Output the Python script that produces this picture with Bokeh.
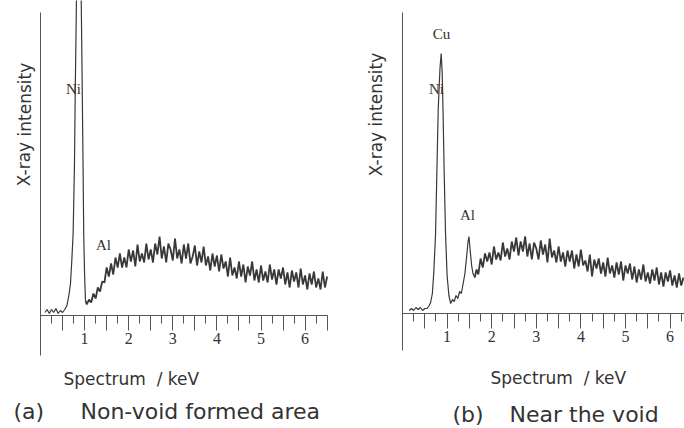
from bokeh.plotting import figure
from bokeh.layouts import row
from bokeh.models import LinearAxis, FixedTicker, Range1d
from bokeh.embed import file_html
from bokeh.resources import INLINE
from bokeh.core.properties import value

# ---------------- data (intensity in arbitrary units) ----------------
left_kev = [0.10, 0.15, 0.20, 0.25, 0.30, 0.35, 0.40, 0.45, 0.50, 0.55,
            0.60, 0.65, 0.68, 0.71, 0.74, 0.77, 0.79, 0.82, 0.87, 0.92,
            0.945, 0.965, 0.98, 1.00, 1.02,
            1.05, 1.10, 1.15, 1.20, 1.25, 1.30, 1.35, 1.40, 1.45, 1.50,
            1.55, 1.60, 1.65, 1.70, 1.75, 1.80, 1.85, 1.90, 1.95, 2.00,
            2.05, 2.10, 2.15, 2.20, 2.25, 2.30, 2.35, 2.40, 2.45, 2.50,
            2.55, 2.60, 2.65, 2.70, 2.75, 2.80, 2.85, 2.90, 2.95, 3.00,
            3.05, 3.10, 3.15, 3.20, 3.25, 3.30, 3.35, 3.40, 3.45, 3.50,
            3.55, 3.60, 3.65, 3.70, 3.75, 3.80, 3.85, 3.90, 3.95, 4.00,
            4.05, 4.10, 4.15, 4.20, 4.25, 4.30, 4.35, 4.40, 4.45, 4.50,
            4.55, 4.60, 4.65, 4.70, 4.75, 4.80, 4.85, 4.90, 4.95, 5.00,
            5.05, 5.10, 5.15, 5.20, 5.25, 5.30, 5.35, 5.40, 5.45, 5.50,
            5.55, 5.60, 5.65, 5.70, 5.75, 5.80, 5.85, 5.90, 5.95, 6.00,
            6.05, 6.10, 6.15, 6.20, 6.25, 6.30, 6.35, 6.40, 6.45, 6.50]
left_counts = [3, 6, 2, 6, 3, 7, 2, 5, 3, 6,
               10, 22, 32, 55, 82, 150, 232, 330, 400, 330,
               232, 150, 82, 40, 15,
               11, 16, 13, 22, 17, 28, 24, 34, 33, 48,
               39, 52, 41, 58, 48, 62, 48, 58, 48, 66,
               54, 65, 49, 71, 54, 62, 53, 72, 56, 66,
               53, 72, 61, 79, 57, 69, 53, 72, 66, 55,
               77, 57, 66, 52, 71, 57, 72, 52, 59, 70,
               50, 64, 53, 69, 50, 59, 45, 62, 49, 60,
               44, 61, 47, 54, 39, 58, 40, 48, 37, 54,
               39, 51, 33, 49, 40, 54, 35, 46, 33, 50,
               35, 44, 33, 51, 36, 46, 31, 46, 37, 48,
               31, 43, 28, 45, 34, 43, 28, 47, 31, 40,
               26, 42, 31, 44, 28, 37, 26, 44, 28, 39]

right_kev = [0.15, 0.20, 0.25, 0.30, 0.35, 0.40, 0.45, 0.50, 0.55, 0.60,
             0.63, 0.67, 0.70, 0.74, 0.77, 0.80, 0.84, 0.868, 0.89, 0.91,
             0.935, 0.965, 1.00, 1.04, 1.08,
             1.12, 1.16, 1.20, 1.24, 1.28, 1.32, 1.36, 1.40, 1.44, 1.47,
             1.49, 1.52, 1.55, 1.58, 1.62, 1.66, 1.70,
             1.75, 1.80, 1.85, 1.90, 1.95, 2.00, 2.05, 2.10, 2.15, 2.20,
             2.25, 2.30, 2.35, 2.40, 2.45, 2.50, 2.55, 2.60, 2.65, 2.70,
             2.75, 2.80, 2.85, 2.90, 2.95, 3.00, 3.05, 3.10, 3.15, 3.20,
             3.25, 3.30, 3.35, 3.40, 3.45, 3.50, 3.55, 3.60, 3.65, 3.70,
             3.75, 3.80, 3.85, 3.90, 3.95, 4.00, 4.05, 4.10, 4.15, 4.20,
             4.25, 4.30, 4.35, 4.40, 4.45, 4.50, 4.55, 4.60, 4.65, 4.70,
             4.75, 4.80, 4.85, 4.90, 4.95, 5.00, 5.05, 5.10, 5.15, 5.20,
             5.25, 5.30, 5.35, 5.40, 5.45, 5.50, 5.55, 5.60, 5.65, 5.70,
             5.75, 5.80, 5.85, 5.90, 5.95, 6.00, 6.05, 6.10, 6.15, 6.20,
             6.25, 6.30]
right_counts = [3, 5, 3, 6, 4, 6, 3, 5, 5, 8,
                11, 20, 40, 78, 140, 203, 245, 260, 240, 200,
                140, 80, 38, 18, 10,
                14, 12, 18, 15, 22, 20, 30, 40, 58, 72,
                77, 62, 48, 40, 36, 44, 39,
                55, 46, 60, 52, 61, 49, 67, 54, 61, 53,
                71, 57, 65, 54, 72, 62, 76, 58, 72, 62,
                77, 57, 70, 54, 71, 65, 54, 73, 59, 69,
                51, 75, 56, 63, 51, 67, 52, 61, 47, 63,
                52, 63, 45, 59, 47, 64, 48, 53, 42, 59,
                37, 54, 45, 55, 40, 51, 37, 56, 40, 48,
                36, 51, 39, 52, 33, 48, 40, 50, 34, 47,
                31, 44, 34, 49, 32, 41, 30, 44, 33, 46,
                29, 41, 27, 41, 32, 43, 28, 38, 26, 40,
                28, 36]

# index where the noisy continuum begins (peaks drawn thin before it)
left_noise_start = 24
right_noise_start = 39

major_ticks = [0.5, 1.0, 1.5, 2.0, 2.5, 3.0, 3.5, 4.0, 4.5, 5.0, 5.5, 6.0, 6.5]
minor_ticks = [0.25, 0.75, 1.25, 1.75, 2.25, 2.75, 3.25, 3.75, 4.25, 4.75, 5.25, 5.75, 6.25]
tick_labels = {0.5: "", 1.0: "1", 1.5: "", 2.0: "2", 2.5: "", 3.0: "3", 3.5: "",
               4.0: "4", 4.5: "", 5.0: "5", 5.5: "", 6.0: "6", 6.5: ""}

y_title = "X-ray intensity"
x_title = "Spectrum\u00a0\u00a0/ keV"
left_tag, left_caption = "(a)", "Non-void formed area"
right_tag, right_caption = "(b)", "Near the void"
left_peaks = ["Ni", "Al"]
right_peaks = ["Cu", "Ni", "Al"]

LINE = "#383838"
TEXT = "#333333"
AXIS = "#555555"
SERIF = "Liberation Serif"
SANS = "DejaVu Sans"


def panel(fig_left, fig_right, x0, kpx, base, kev, counts, noise_start, y_top, y_bot,
          peak_names, peak_xy, ylab_xy, xlab_x, xlab_y, tag, tag_x, cap, cap_x, cap_y):
    # screen (page px) -> data helpers
    def kx(sx):
        return (sx - x0) / kpx

    def iy(sy):
        return base - sy

    width = fig_right - fig_left
    p = figure(width=width, height=428, output_backend="svg", toolbar_location=None,
               x_axis_type=None, y_axis_type=None, min_border=0,
               x_range=Range1d(kx(fig_left), kx(fig_right)),
               y_range=Range1d(iy(428), iy(0)))
    p.outline_line_color = None
    p.background_fill_color = "white"
    p.border_fill_color = "white"

    xa = LinearAxis(ticker=FixedTicker(ticks=major_ticks, minor_ticks=minor_ticks),
                    fixed_location=0, bounds=(0, 6.5))
    xa.major_label_overrides = tick_labels
    xa.axis_line_color = AXIS
    xa.major_tick_line_color = AXIS
    xa.minor_tick_line_color = AXIS
    xa.major_tick_in = 0
    xa.major_tick_out = 15
    xa.minor_tick_in = 0
    xa.minor_tick_out = 8
    xa.major_label_standoff = 2
    xa.major_label_text_font = SERIF
    xa.major_label_text_font_size = "16px"
    xa.major_label_text_color = TEXT
    p.add_layout(xa, "below")

    ya = LinearAxis(ticker=FixedTicker(ticks=[]), fixed_location=0,
                    bounds=(iy(y_bot), iy(y_top)))
    ya.axis_line_color = AXIS
    ya.major_tick_line_color = None
    ya.minor_tick_line_color = None
    ya.major_label_text_font_size = "0px"
    p.add_layout(ya, "left")

    p.line(kev[:noise_start + 1], counts[:noise_start + 1], line_color=LINE, line_width=1.2)
    p.line(kev[noise_start:], counts[noise_start:], line_color=LINE, line_width=1.8)

    p.text(x=[kx(sx) for sx, sy in peak_xy], y=[iy(sy) for sx, sy in peak_xy],
           text=peak_names, text_font=value(SERIF), text_font_size="15px",
           text_color=TEXT, text_align="center", text_baseline="middle")

    p.text(x=[kx(ylab_xy[0])], y=[iy(ylab_xy[1])], text=[y_title], angle=1.5707963,
           text_font=value(SANS), text_font_size="17px", text_color=TEXT,
           text_align="center", text_baseline="middle")

    p.text(x=[kx(xlab_x)], y=[iy(xlab_y)], text=[x_title],
           text_font=value(SANS), text_font_size="17px", text_color=TEXT,
           text_align="left", text_baseline="middle")

    p.text(x=[kx(tag_x), kx(cap_x)], y=[iy(cap_y), iy(cap_y)], text=[tag, cap],
           text_font=value(SANS), text_font_size="22px", text_color=TEXT,
           text_align="left", text_baseline="middle")
    return p


pa = panel(0, 342, 40, 44.1, 315, left_kev, left_counts, left_noise_start, 12, 355,
           left_peaks, [(73, 88), (103, 244)], (24, 124), 63, 378,
           left_tag, 13, left_caption, 80, 411)
pb = panel(342, 684, 402, 44.6, 313, right_kev, right_counts, right_noise_start, 12, 350,
           right_peaks, [(441, 33), (436, 88), (467, 214)], (375, 114), 490, 377,
           right_tag, 452, right_caption, 509, 414)

layout = row(pa, pb, spacing=0)
open("out.html", "w").write(file_html(layout, INLINE))
